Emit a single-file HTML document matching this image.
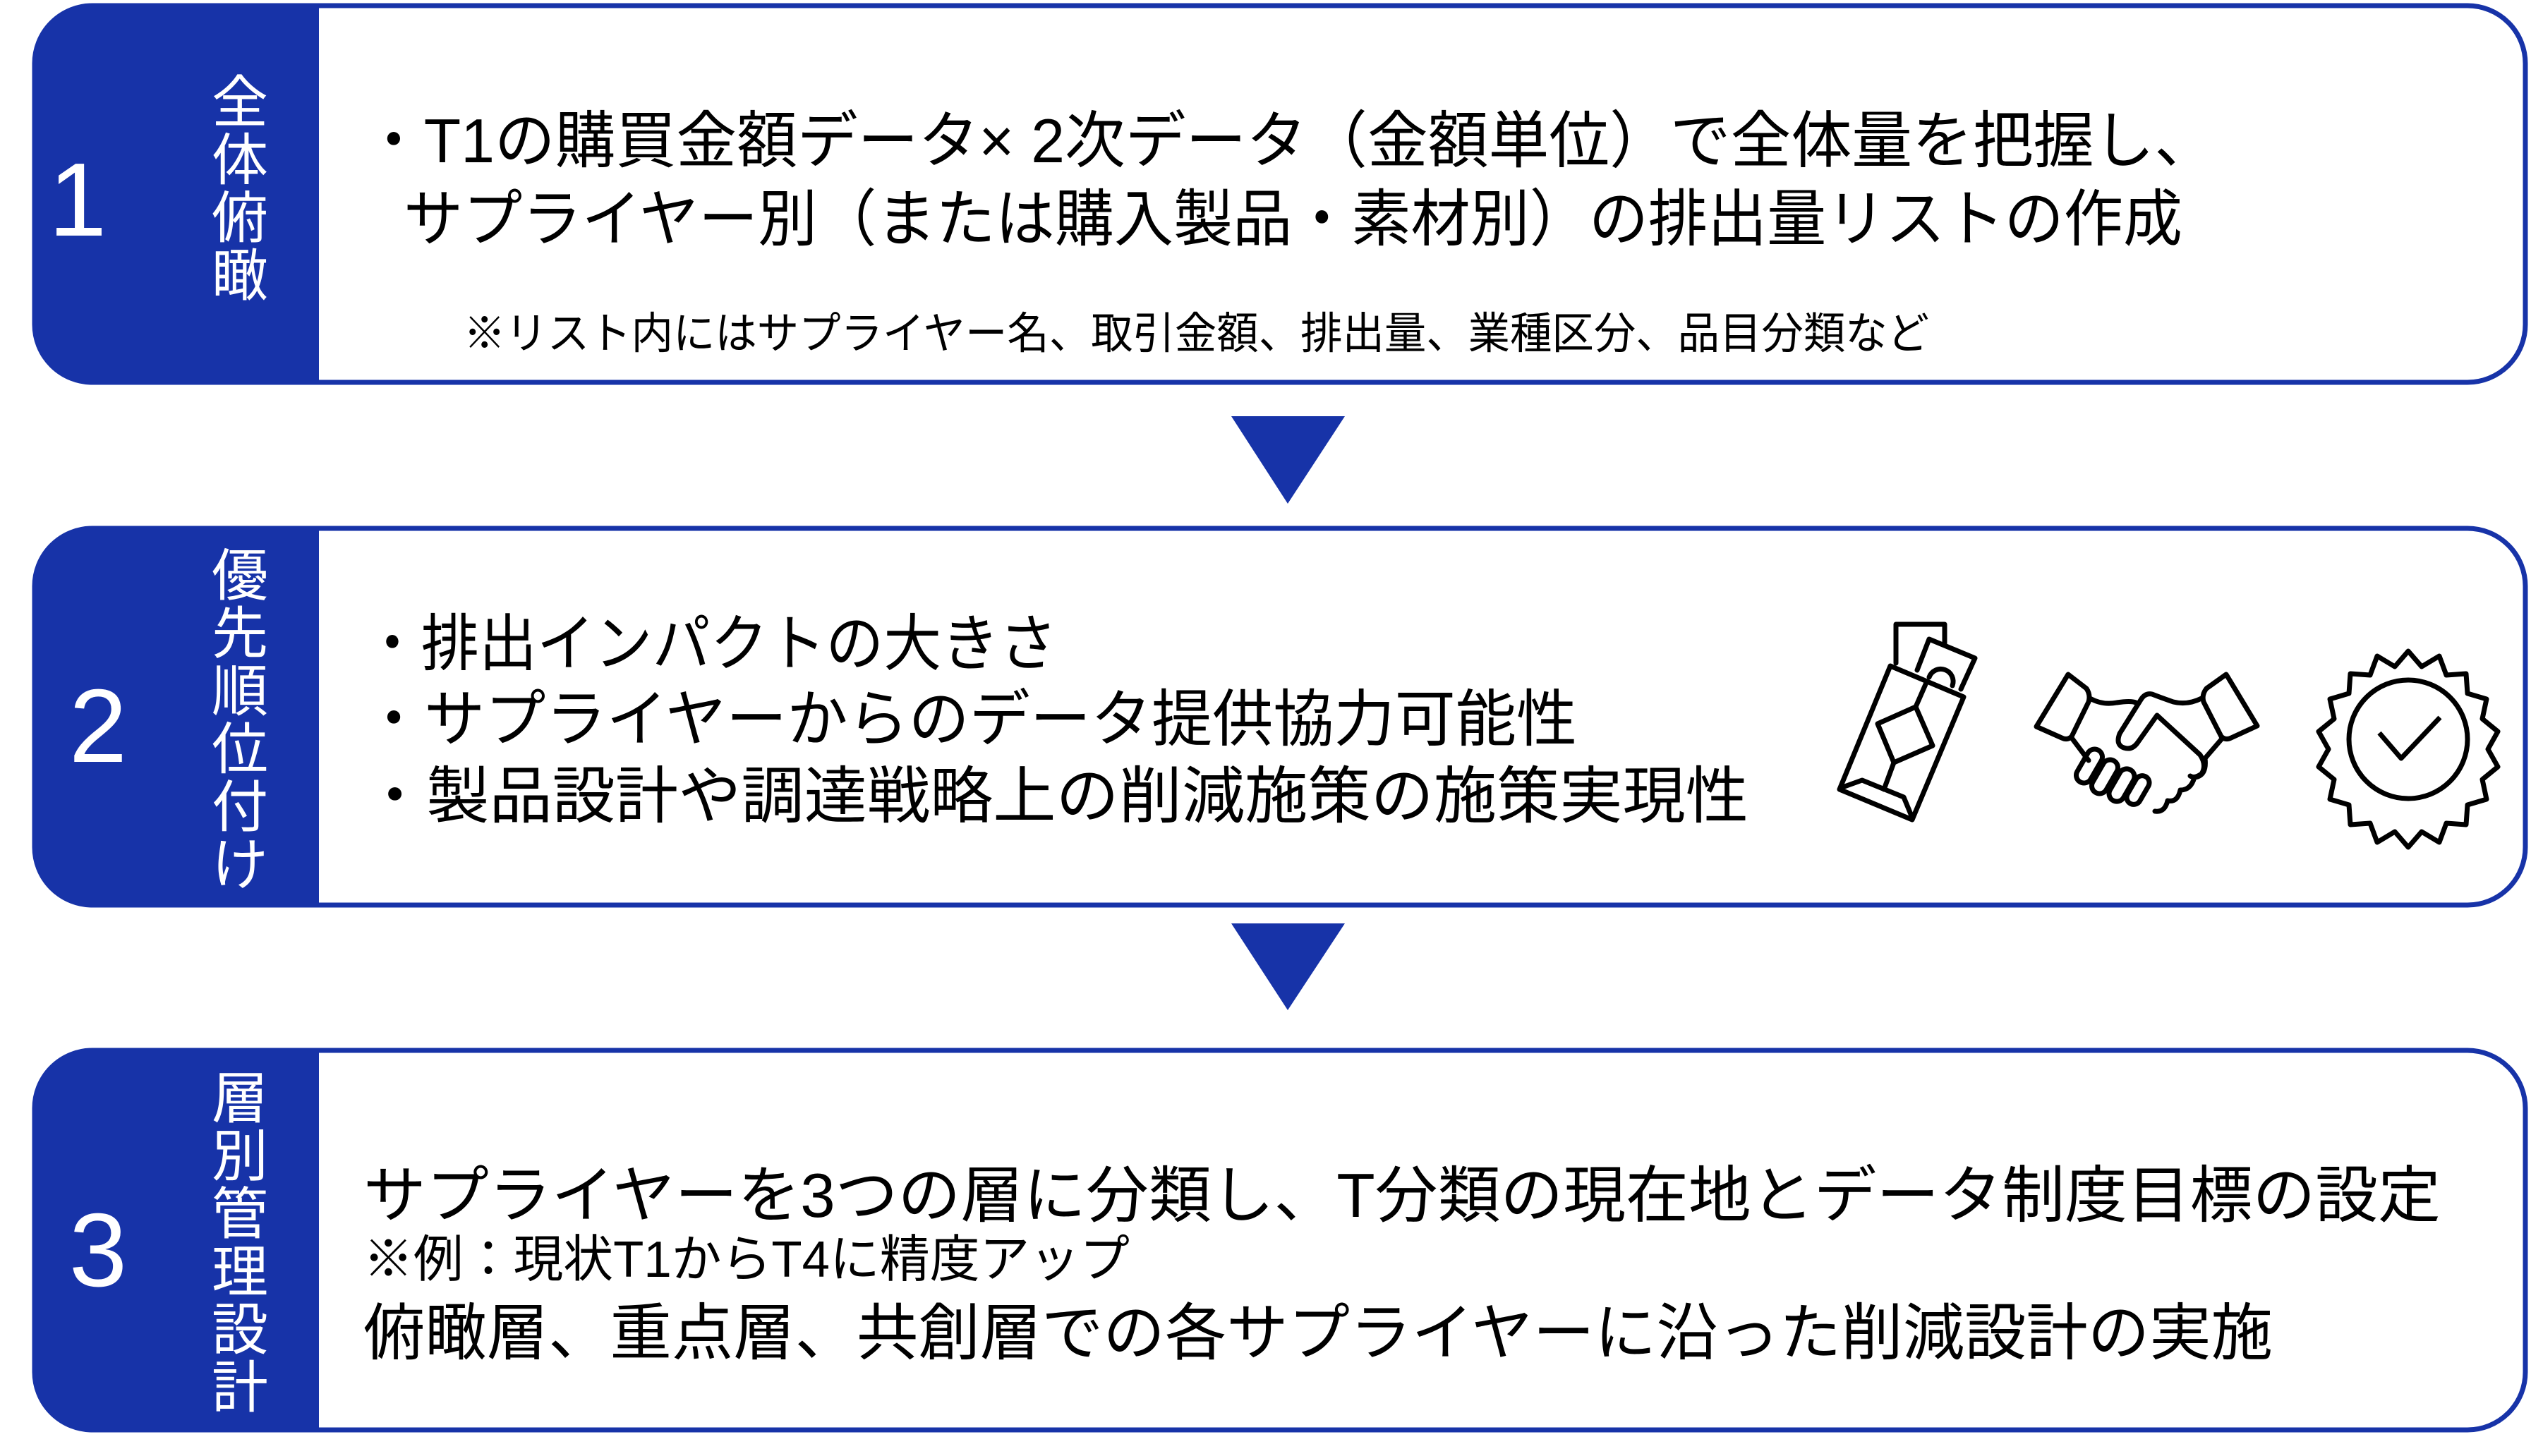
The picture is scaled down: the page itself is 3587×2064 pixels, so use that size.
<!DOCTYPE html>
<html><head><meta charset="utf-8"><style>
html,body{margin:0;padding:0;background:#fff;}
svg{display:block;}
text{font-family:"Liberation Sans","Noto Sans CJK JP",sans-serif;}
</style></head><body>
<svg width="3587" height="2064" viewBox="0 0 3587 2064" xmlns="http://www.w3.org/2000/svg">
<defs>
<clipPath id="c1"><rect x="46" y="5" width="3536" height="540" rx="85" ry="85"/></clipPath>
<clipPath id="c2"><rect x="46" y="746" width="3536" height="540" rx="85" ry="85"/></clipPath>
<clipPath id="c3"><rect x="46" y="1486" width="3536" height="544" rx="85" ry="85"/></clipPath>
</defs>
<g fill="none" stroke="#1733a8" stroke-width="7">
<rect x="49" y="8" width="3530" height="534" rx="82" ry="82"/>
<rect x="49" y="749" width="3530" height="534" rx="82" ry="82"/>
<rect x="49" y="1489" width="3530" height="538" rx="82" ry="82"/>
</g>
<rect x="40" y="0" width="412" height="560" fill="#1733a8" clip-path="url(#c1)"/>
<rect x="40" y="740" width="412" height="560" fill="#1733a8" clip-path="url(#c2)"/>
<rect x="40" y="1480" width="412" height="560" fill="#1733a8" clip-path="url(#c3)"/>
<polygon points="1745,590 1906,590 1825,714" fill="#1733a8"/>
<polygon points="1745,1309 1906,1309 1825,1432" fill="#1733a8"/>
<g fill="#fff" font-size="148" text-anchor="middle">
<text x="110" y="334">1</text>
<text x="139" y="1080">2</text>
<text x="139" y="1823">3</text>
</g>
<g fill="#fff" font-size="80" text-anchor="middle">
<text x="340" y="173">全</text><text x="340" y="255">体</text><text x="340" y="337">俯</text><text x="340" y="419">瞰</text>
<text x="340" y="844">優</text><text x="340" y="926">先</text><text x="340" y="1008">順</text><text x="340" y="1090">位</text><text x="340" y="1172">付</text><text x="340" y="1254">け</text>
<text x="340" y="1585">層</text><text x="340" y="1667">別</text><text x="340" y="1749">管</text><text x="340" y="1831">理</text><text x="340" y="1913">設</text><text x="340" y="1995">計</text>
</g>
<g fill="#000" font-size="88">
<text x="515" y="230" textLength="2624" lengthAdjust="spacingAndGlyphs">・T1の購買金額データ× 2次データ（金額単位）で全体量を把握し、</text>
<text x="572" y="341" textLength="2521" lengthAdjust="spacingAndGlyphs">サプライヤー別（または購入製品・素材別）の排出量リストの作成</text>
<text x="515" y="943" textLength="983" lengthAdjust="spacingAndGlyphs">・排出インパクトの大きさ</text>
<text x="515" y="1050" textLength="1720" lengthAdjust="spacingAndGlyphs">・サプライヤーからのデータ提供協力可能性</text>
<text x="515" y="1159" textLength="1963" lengthAdjust="spacingAndGlyphs">・製品設計や調達戦略上の削減施策の施策実現性</text>
<text x="515" y="1725" textLength="2944" lengthAdjust="spacingAndGlyphs">サプライヤーを3つの層に分類し、T分類の現在地とデータ制度目標の設定</text>
<text x="515" y="1920" textLength="2706" lengthAdjust="spacingAndGlyphs">俯瞰層、重点層、共創層での各サプライヤーに沿った削減設計の実施</text>
</g>
<g fill="#000">
<text x="657" y="494" font-size="62" textLength="2077" lengthAdjust="spacingAndGlyphs">※リスト内にはサプライヤー名、取引金額、排出量、業種区分、品目分類など</text>
<text x="515" y="1810" font-size="72" textLength="1086" lengthAdjust="spacingAndGlyphs">※例：現状T1からT4に精度アップ</text>
</g>
<!-- icons -->
<g fill="none" stroke="#000" stroke-width="7" stroke-linejoin="round" stroke-linecap="round">
<polyline points="2687,940 2687,885 2756,885 2756,914"/>
<polyline points="2717,950 2734,906 2799,933 2779,977"/>
<path d="M2734,960 A14,14 0 0 1 2767,972"/>
<polygon points="2679,944 2783,988 2710,1162 2607,1119"/>
<polygon points="2661,1026 2715,1002 2739,1057 2684,1081"/>
<line x1="2729" y1="970" x2="2715" y2="1002"/>
<line x1="2684" y1="1081" x2="2670" y2="1119"/>
<polyline points="2614,1115 2639,1106 2698,1130 2710,1159"/>
<!-- handshake -->
<path d="M2886,1030 L2931,956 L2957,976 Q2963,985 2960,995 L2936,1044 Q2930,1050 2922,1046 Z"/>
<path d="M3199,1029 L3155,956 L3127,976 Q3120,985 3123,995 L3148,1044 Q3154,1050 3162,1046 Z"/>
<path d="M2962,990 Q2980,1000 3000,996 Q3020,993 3027,996"/>
<path d="M3120,990 Q3100,1000 3080,995 Q3060,988 3050,984 Q3040,982 3034,992 L3004,1040 Q2998,1056 3010,1060 Q3022,1064 3030,1052 L3057,1014 L3118,1070 Q3128,1085 3120,1097 Q3110,1104 3104,1100"/>
<path d="M2936,1046 L2960,1078"/>
<path d="M3150,1046 L3125,1075"/>
<path d="M3125,1075 Q3128,1100 3110,1102 Q3105,1120 3090,1120 Q3086,1138 3072,1135 Q3068,1152 3054,1150"/>
<rect x="2950" y="1060" width="22" height="52" rx="11" transform="rotate(30 2961 1086)"/>
<rect x="2972" y="1075" width="22" height="52" rx="11" transform="rotate(30 2983 1101)"/>
<rect x="2996" y="1088" width="22" height="50" rx="11" transform="rotate(30 3007 1113)"/>
<rect x="3020" y="1098" width="20" height="44" rx="10" transform="rotate(30 3030 1120)"/>
<!-- badge -->
<path d="M3413,923 L3432,945 L3457,930 L3467,957 L3495,955 L3497,983 L3524,991 L3518,1019 L3540,1037 L3526,1062 L3540,1087 L3518,1105 L3524,1133 L3497,1141 L3495,1169 L3467,1167 L3457,1194 L3432,1179 L3413,1201 L3394,1179 L3369,1194 L3359,1167 L3331,1169 L3329,1141 L3302,1133 L3308,1105 L3286,1087 L3300,1062 L3286,1037 L3308,1019 L3302,991 L3329,983 L3331,955 L3359,957 L3369,930 L3394,945 Z"/>
<circle cx="3413" cy="1048" r="84"/>
<polyline points="3372,1039 3403,1075 3458,1017" stroke-linecap="butt"/>
</g>
</svg>
</body></html>
